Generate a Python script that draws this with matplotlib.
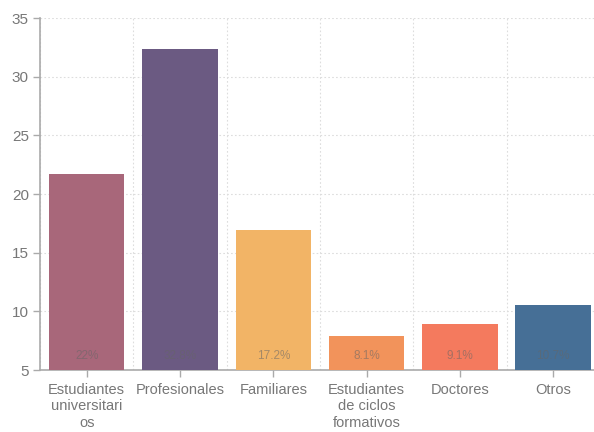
import matplotlib.pyplot as plt
import numpy as np

# Visitor groups and their counts
categories = ["Estudiantes\nuniversitari\nos", "Profesionales", "Familiares",
              "Estudiantes\nde ciclos\nformativos", "Doctores", "Otros"]
values = [21.7, 32.4, 16.9, 7.9, 8.9, 10.5]
shares = ["22%", "32.8%", "17.2%", "8.1%", "9.1%", "10.7%"]
colors = ["#a8677a", "#6b5a82", "#f2b466", "#f2935b", "#f47a5e", "#466f96"]
yticks = [5, 10, 15, 20, 25, 30, 35]

plt.rcParams['font.family'] = ['Liberation Sans', 'DejaVu Sans']

fig = plt.figure(figsize=(5.94, 4.32), dpi=100)
ax = fig.add_axes([40 / 594, 1 - 370 / 432, 1 - 40 / 594 + 0.01, 352 / 432])

x = np.arange(len(categories))
ax.bar(x, np.array(values) - 5, bottom=5, width=0.81, color=colors, zorder=3)

# share labels sit near the bottom of each bar
for xi, s in zip(x, shares):
    ax.text(xi, 6.2, s, ha='center', va='center', fontsize=8.5,
            color='#666666', alpha=0.55, zorder=4)

ax.set_ylim(5, 35)
ax.set_xlim(-0.5, 5.5)
ax.set_yticks(yticks)
ax.set_xticks(x)
ax.set_xticklabels(categories)

# dotted grid on category boundaries and y ticks
ax.set_xticks(np.arange(-0.5, 6, 1), minor=True)
ax.grid(which='minor', axis='x', color='#dddddd', linestyle=(0, (1.5, 2)), linewidth=0.8, zorder=0)
ax.grid(which='major', axis='y', color='#dddddd', linestyle=(0, (1.5, 2)), linewidth=0.8, zorder=0)
ax.tick_params(which='minor', length=0)

for side in ['top', 'right']:
    ax.spines[side].set_visible(False)
for side in ['left', 'bottom']:
    ax.spines[side].set_color('#aaaaaa')
    ax.spines[side].set_linewidth(1.2)

ax.tick_params(axis='both', which='major', colors='#aaaaaa', length=5, width=1)
ax.tick_params(axis='y', labelsize=11, labelcolor='#777777', pad=3)
ax.tick_params(axis='x', labelsize=10.5, labelcolor='#777777', pad=4)
for lbl in ax.get_xticklabels():
    lbl.set_linespacing(1.25)

fig.savefig('out.png', dpi=100)
